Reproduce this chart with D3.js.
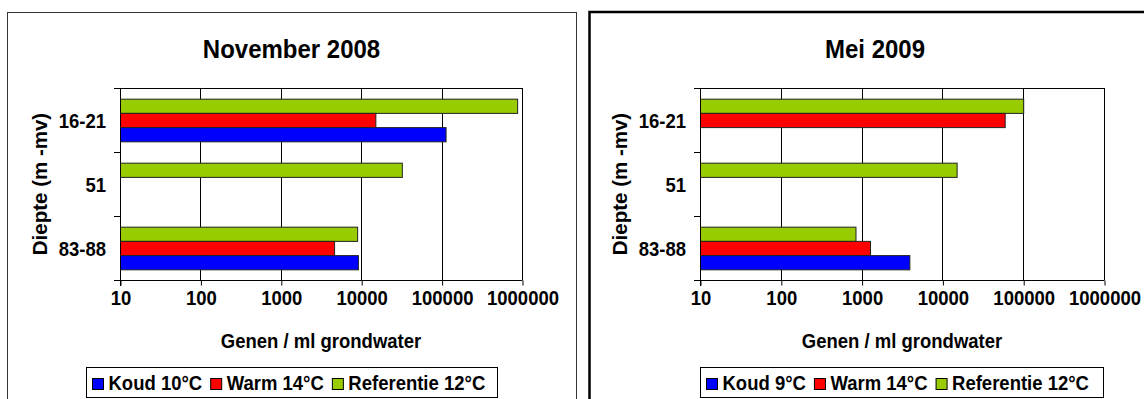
<!DOCTYPE html>
<html>
<head>
<meta charset="utf-8">
<script src="https://cdn.jsdelivr.net/npm/d3@7"></script>
<style>
  html, body { margin: 0; padding: 0; background: #fff; }
  svg { display: block; }
  text { font-family: "Liberation Sans", Arial, sans-serif; font-weight: bold; fill: #000; }
</style>
</head>
<body>
<svg id="chart" width="1144" height="399"></svg>
<script>
// ---- data ----
const categories = ["16-21", "51", "83-88"];
const tickValues = [10, 100, 1000, 10000, 100000, 1000000];
const tickLabels = ["10", "100", "1000", "10000", "100000", "1000000"];

const novTitle = "November 2008";
const novKoud = [112000, null, 9100];
const novWarm = [15000, null, 4600];
const novRef  = [870000, 32000, 8900];
const novLegend = ["Koud 10°C", "Warm 14°C", "Referentie 12°C"];

const meiTitle = "Mei 2009";
const meiKoud = [null, null, 3900];
const meiWarm = [59000, null, 1270];
const meiRef  = [100000, 15000, 840];
const meiLegend = ["Koud 9°C", "Warm 14°C", "Referentie 12°C"];

const xTitle = "Genen / ml grondwater";
const yTitle = "Diepte (m -mv)";

// ---- styling / layout ----
const colors = { koud: "#0000FF", warm: "#FF0000", ref: "#99CC00" };
const SY = 1.1; // vertical stretch of the text glyphs
const svg = d3.select("#chart");

function stretchedText(g, x, y, str, size, anchor) {
  return g.append("text")
    .attr("transform", `translate(${x},${y}) scale(1,${SY})`)
    .attr("text-anchor", anchor || "start")
    .style("font-size", size + "px")
    .text(str);
}

const panels = [
  {
    title: novTitle, koud: novKoud, warm: novWarm, ref: novRef, legend: novLegend,
    frame: { x: 7.5, y: 12.5, w: 569, h: 420, sw: 1, stroke: "#333" },
    plot: { x0: 120, x1: 522, y0: 88, y1: 280 },
    titleX: 291.5, yTitleX: 47, catX: 106,
    legendBox: { x: 86.5, y: 367.5, w: 411, h: 30 }
  },
  {
    title: meiTitle, koud: meiKoud, warm: meiWarm, ref: meiRef, legend: meiLegend,
    frame: { x: 589.5, y: 12, w: 620, h: 420, sw: 2.5, stroke: "#000" },
    plot: { x0: 700, x1: 1104, y0: 88, y1: 280 },
    titleX: 875, yTitleX: 627, catX: 686,
    legendBox: { x: 700.5, y: 367.5, w: 403, h: 30 }
  }
];

panels.forEach(p => {
  const g = svg.append("g");
  // frame
  g.append("rect")
    .attr("x", p.frame.x).attr("y", p.frame.y)
    .attr("width", p.frame.w).attr("height", p.frame.h)
    .attr("fill", "none").attr("stroke", p.frame.stroke).attr("stroke-width", p.frame.sw);

  const x = d3.scaleLog().domain([10, 1000000]).range([p.plot.x0, p.plot.x1]);
  const y = d3.scaleBand().domain(categories).range([p.plot.y0, p.plot.y1]).padding(0);
  const ySub = d3.scaleBand().domain(["ref", "warm", "koud"]).range([0, y.bandwidth()])
    .paddingInner(0).paddingOuter(0.75);

  // title
  stretchedText(g, p.titleX, 58, p.title, 24, "middle");

  // gridlines (vertical) at decades
  g.selectAll(".grid").data(tickValues.slice(1)).enter().append("line")
    .attr("x1", d => Math.round(x(d)) + 0.5).attr("x2", d => Math.round(x(d)) + 0.5)
    .attr("y1", p.plot.y0).attr("y2", p.plot.y1)
    .attr("stroke", "#000").attr("stroke-width", 1);

  // top border of plot
  g.append("line")
    .attr("x1", p.plot.x0).attr("x2", Math.round(p.plot.x1) + 0.5)
    .attr("y1", p.plot.y0 + 0.5).attr("y2", p.plot.y0 + 0.5)
    .attr("stroke", "#000");

  // bars
  const rows = [];
  categories.forEach((c, i) => {
    [["ref", p.ref[i]], ["warm", p.warm[i]], ["koud", p.koud[i]]].forEach(([k, v]) => {
      if (v != null) rows.push({ cat: c, key: k, value: v });
    });
  });
  g.selectAll(".bar").data(rows).enter().append("rect")
    .attr("x", x(10) + 0.5)
    .attr("y", d => y(d.cat) + ySub(d.key) + 0.5)
    .attr("width", d => x(d.value) - x(10))
    .attr("height", ySub.bandwidth())
    .attr("fill", d => colors[d.key])
    .attr("stroke", "#222").attr("stroke-width", 1);

  // x axis
  const xAxis = d3.axisBottom(x).tickValues(tickValues)
    .tickFormat((d, i) => tickLabels[i]).tickSizeInner(5).tickSizeOuter(0).tickPadding(0);
  const ax = g.append("g").attr("transform", `translate(0.5,${p.plot.y1 + 0.5})`).call(xAxis);
  ax.select(".domain").attr("stroke", "#000").attr("d", `M${p.plot.x0 - 6.5},0H${p.plot.x1}`);
  ax.selectAll(".tick line").attr("stroke", "#000");
  ax.selectAll(".tick text").attr("y", null).attr("dy", null)
    .attr("transform", `translate(0,24.5) scale(1,${SY})`)
    .style("font-size", "18.5px").style("font-family", "'Liberation Sans', Arial, sans-serif")
    .style("font-weight", "bold").attr("fill", "#000");

  // y axis line and boundary ticks
  g.append("line").attr("x1", p.plot.x0 + 0.5).attr("x2", p.plot.x0 + 0.5)
    .attr("y1", p.plot.y0).attr("y2", p.plot.y1 + 6).attr("stroke", "#000");
  const bounds = categories.map(c => y(c)).concat([p.plot.y1]);
  g.selectAll(".ytick").data(bounds).enter().append("line")
    .attr("x1", p.plot.x0 - 6).attr("x2", p.plot.x0)
    .attr("y1", d => d + 0.5).attr("y2", d => d + 0.5).attr("stroke", "#000");

  // category labels
  categories.forEach(c => {
    stretchedText(g, p.catX, y(c) + y.bandwidth() / 2 + 7.5, c, 18.5, "end");
  });

  // axis titles
  stretchedText(g, (p.plot.x0 + p.plot.x1) / 2, 348, xTitle, 18.5, "middle");
  g.append("text")
    .attr("transform", `translate(${p.yTitleX},${(p.plot.y0 + p.plot.y1) / 2}) rotate(-90)`)
    .attr("text-anchor", "middle").style("font-size", "20.5px").text(yTitle);

  // legend
  const lb = p.legendBox;
  g.append("rect").attr("x", lb.x).attr("y", lb.y).attr("width", lb.w).attr("height", lb.h)
    .attr("fill", "#fff").attr("stroke", "#000");
  const keys = ["koud", "warm", "ref"];
  let cx = lb.x + 6;
  keys.forEach((k, i) => {
    g.append("rect").attr("x", cx).attr("y", 378.5).attr("width", 11).attr("height", 11)
      .attr("fill", colors[k]).attr("stroke", "#000");
    const t = stretchedText(g, cx + 16, 390, p.legend[i], 18.5, "start");
    cx = cx + 16 + t.node().getComputedTextLength() + 8.5;
  });
});
</script>
</body>
</html>
